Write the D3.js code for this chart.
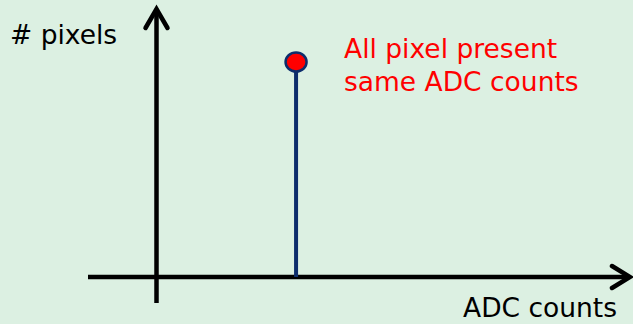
<!DOCTYPE html>
<html><head><meta charset="utf-8">
<script src="https://cdn.jsdelivr.net/npm/d3@7"></script>
<style>
html,body{margin:0;padding:0;background:#dcf0e2;}
svg{display:block;}
text{font-family:"DejaVu Sans",Verdana,sans-serif;}
</style></head>
<body>
<script>
// Data
const adcCounts = [29.4];      // ADC value where all pixels sit
const pixelCounts = [1];       // number of pixels (normalised)
const xLabel = "ADC counts";
const yLabel = "# pixels";
const annotation = ["All pixel present", "same ADC counts"];

const W = 633, H = 324;
const svg = d3.select("body").append("svg").attr("width", W).attr("height", H);
svg.append("rect").attr("width", W).attr("height", H).attr("fill", "#dcf0e2");

const x = d3.scaleLinear().domain([0, 100]).range([157, 630]);
const y = d3.scaleLinear().domain([0, 1]).range([277, 62]);

const axisW = 4.5;
// horizontal axis
svg.append("line").attr("x1", 88).attr("x2", x(100) - 1).attr("y1", y(0)).attr("y2", y(0))
  .attr("stroke", "#000").attr("stroke-width", axisW);
svg.append("polyline")
  .attr("points", `${x(100)-18},${y(0)-11} ${x(100)},${y(0)} ${x(100)-18},${y(0)+11}`)
  .attr("fill", "none").attr("stroke", "#000").attr("stroke-width", axisW)
  .attr("stroke-linejoin", "miter").attr("stroke-linecap", "round");
// vertical axis
svg.append("line").attr("x1", x(0) - 0.5).attr("x2", x(0) - 0.5).attr("y1", 303).attr("y2", 9)
  .attr("stroke", "#000").attr("stroke-width", axisW);
svg.append("polyline")
  .attr("points", `${x(0)-11.5},28 ${x(0)-0.5},9 ${x(0)+10.5},28`)
  .attr("fill", "none").attr("stroke", "#000").attr("stroke-width", axisW)
  .attr("stroke-linejoin", "miter").attr("stroke-linecap", "round");

// stems
svg.selectAll(".stem").data(adcCounts).enter().append("line")
  .attr("x1", d => x(d)).attr("x2", d => x(d))
  .attr("y1", y(0)).attr("y2", (d, i) => y(pixelCounts[i]))
  .attr("stroke", "#0d2d6c").attr("stroke-width", 4);
svg.selectAll(".dot").data(adcCounts).enter().append("ellipse")
  .attr("cx", d => x(d)).attr("cy", (d, i) => y(pixelCounts[i]))
  .attr("rx", 10.5).attr("ry", 9.5)
  .attr("fill", "#ff0000").attr("stroke", "#0d2d6c").attr("stroke-width", 2.5);

// labels
const fs = 26.5;
svg.append("text").attr("x", 10).attr("y", 44).attr("font-size", fs).attr("fill", "#000").text(yLabel);
svg.append("text").attr("x", 463).attr("y", 317).attr("font-size", fs).attr("fill", "#000").text(xLabel);
svg.selectAll(".ann").data(annotation).enter().append("text")
  .attr("x", 344).attr("y", (d, i) => 58 + i * 32.5)
  .attr("font-size", fs).attr("fill", "#ff0000").text(d => d);
</script>
</body></html>
